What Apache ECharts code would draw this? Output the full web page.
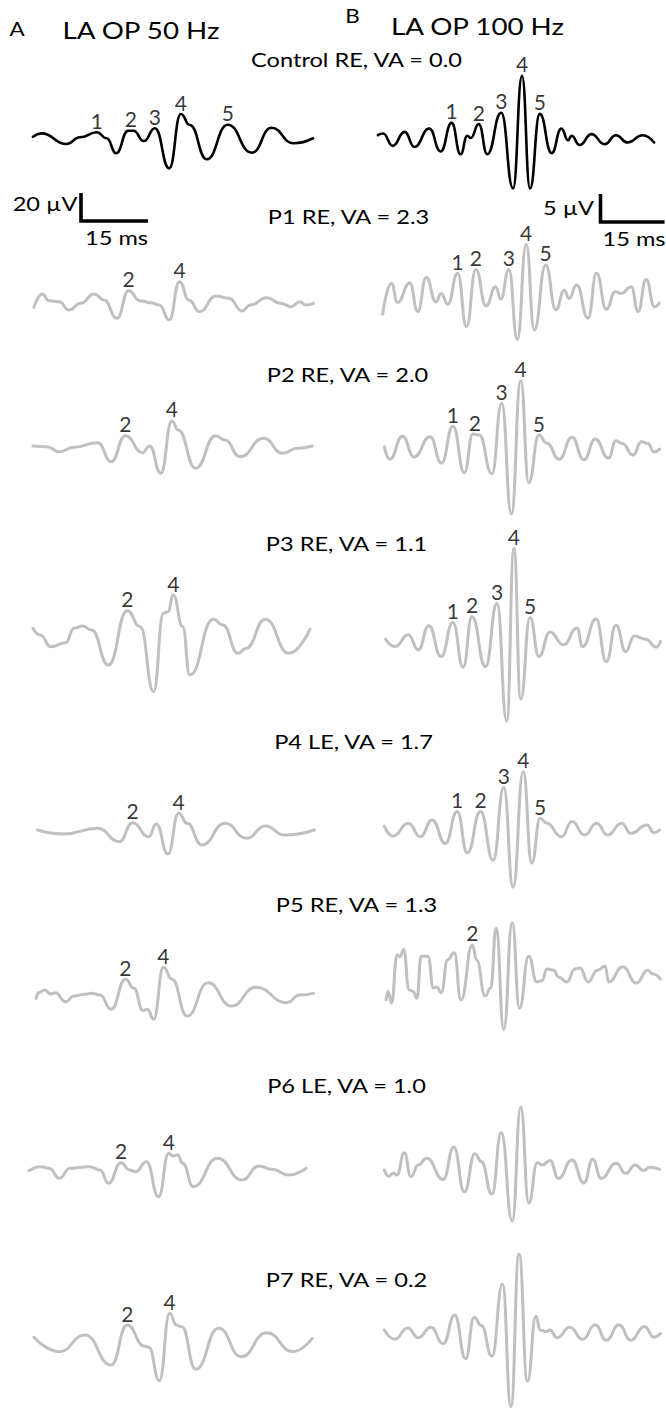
<!DOCTYPE html>
<html><head><meta charset="utf-8">
<script src="https://cdn.jsdelivr.net/npm/echarts@6/dist/echarts.min.js"></script>
<style>html,body{margin:0;padding:0;background:#fff}#c{width:666px;height:1426px}</style>
</head><body><div id="c"></div>
<script>
// ---- Text ----
const panelLetters = ['A', 'B'];
const panelTitles = ['LA OP 50 Hz', 'LA OP 100 Hz'];
const rowTitles = ['Control RE, VA = 0.0', 'P1 RE, VA = 2.3', 'P2 RE, VA = 2.0', 'P3 RE, VA = 1.1',
  'P4 LE, VA = 1.7', 'P5 RE, VA = 1.3', 'P6 LE, VA = 1.0', 'P7 RE, VA = 0.2'];
const scaleMs = 15, scaleUv50 = 20, scaleUv100 = 5;

// ---- Traces: [time ms, amplitude µV] turning points ----
// LA OP 50 Hz (left column)
const ctrl50 = [[0,0.2],[1.9,2.6],[7.5,-5.0],[10.5,-0.2],[14.3,3.4],[16.5,-0.9],[18.6,-11.6],[21.3,4.5],[22.5,4.5],[24.8,-2.9],[27.3,6.2],[30.5,-22.4],[33.1,16.4],[35.1,8.6],[38.9,-15.9],[43.6,8.8],[49.0,-11.2],[53.4,6.6],[58.3,-4.5],[62.7,-0.9]];
const p1_50 = [[0.2,-3.1],[2.1,6.4],[3.6,1.6],[5.9,0.9],[8.0,-5.0],[10.7,-0.2],[13.7,6.4],[15.9,2.1],[18.8,-10.9],[21.4,8.8],[24.0,1.6],[26.4,0.2],[28.3,-1.4],[30.5,-12.1],[32.8,15.2],[34.9,2.1],[37.3,-6.2],[40.9,5.0],[43.9,3.4],[46.8,-5.7],[48.7,-1.4],[52.3,3.8],[55.4,-0.2],[57.8,-2.6],[59.7,0.9],[61.1,-1.4],[62.8,-0.2]];
const p2_50 = [[0,0.7],[3.1,0.2],[5.9,-3.4],[9.2,-0.2],[14.5,3.1],[17.5,-10.5],[20.7,8.1],[24.5,-4.1],[26.1,0.7],[28.6,-18.8],[31.1,18.6],[32.5,12.1],[36.4,-15.2],[40.9,8.1],[43.0,5.0],[46.3,-6.9],[51.7,6.2],[55.8,-4.5],[59.2,-0.9],[62.5,0.7]];
const p3_50 = [[0,2.6],[1.6,-2.1],[4.0,-10.5],[7.3,-7.6],[9.2,2.6],[11.1,4.3],[13.1,1.4],[16.9,-23.6],[21.1,15.2],[24.0,3.8],[27.0,-42.6],[29.2,13.4],[30.2,14.5],[31.4,26.4],[33.5,3.8],[35.1,-30.7],[40.4,9.1],[42.5,5.0],[45.9,-15.2],[47.7,-11.6],[52.0,9.1],[57.3,-15.2],[62.0,2.1]];
const p4_50 = [[1.0,0.7],[6.9,-2.1],[14.5,1.9],[19.3,-7.6],[22.3,5.9],[25.9,-4.1],[27.6,5.0],[30.2,-16.4],[32.6,12.6],[34.5,5.5],[37.8,-10.0],[43.0,5.5],[47.8,-5.2],[52.0,3.6],[56.3,-2.9],[63.0,0.7]];
const p5_50 = [[0.7,-0.9],[1.2,3.1],[2.6,5.0],[4.0,2.1],[5.0,3.1],[7.3,-3.4],[9.2,0.7],[11.6,1.9],[13.1,2.6],[15.0,1.4],[17.5,-8.8],[20.7,12.6],[22.6,6.2],[24.6,-9.6],[25.6,-8.8],[27.0,-15.9],[29.2,21.2],[31.1,12.6],[34.5,-13.6],[39.2,10.2],[44.4,-6.4],[49.9,6.9],[56.8,-4.1],[59.7,1.4],[62.8,2.6]];
const p6_50 = [[-0.9,-0.5],[1.7,2.4],[3.6,1.2],[5.9,-5.9],[8.3,1.2],[12.6,2.4],[15.0,0],[16.9,-9.5],[19.7,5.2],[21.6,0],[23.0,-1.2],[25.4,5.9],[28.1,-19.1],[30.4,11.9],[31.2,10.0],[32.4,10.7],[33.5,4.8],[35.9,-11.9],[41.3,8.4],[46.8,-7.1],[50.6,2.9],[53.5,0.5],[57.3,-3.6],[61.1,1.2]];
const p7_50 = [[0.2,3.4],[5.9,-6.9],[11.6,5.0],[17.5,-16.4],[21.1,12.1],[24.9,-2.9],[25.9,-3.8],[28.3,-27.6],[30.6,20.5],[32.1,12.1],[33.3,10.9],[36.4,-19.5],[41.6,9.8],[46.6,-10.5],[52.3,6.6],[58.2,-6.9],[62.5,2.6]];

// LA OP 100 Hz (right column)
const ctrl100 = [[0,0.5],[1.2,0.8],[3.5,-1.4],[6.3,1.1],[8.6,-1.6],[12.1,1.7],[14.8,-2.4],[17.4,2.7],[19.5,-2.9],[21.1,0.4],[21.9,0],[23.8,2.5],[25.8,-2.9],[29.1,4.5],[31.9,-9.0],[34.0,11.1],[35.9,-9.0],[38.2,4.3],[41.0,-2.7],[43.3,1.7],[44.9,-0.4],[45.7,0.4],[47.6,-1.25],[50.4,0.7],[53.5,-1.1],[56.2,0.5],[58.9,-0.8],[62.5,0.5],[65.2,-0.8]];
const p1_100 = [[1.1,-2.9],[3.2,2.6],[4.6,-0.8],[7.5,2.7],[9.4,-2.4],[11.4,3.7],[13.7,-0.7],[14.9,0.8],[16.5,-1.1],[18.8,4.4],[20.9,-5.1],[23.1,5.1],[25.5,-1.4],[27.8,2.0],[29.0,-0.2],[30.9,5.1],[32.9,-7.4],[35.0,9.6],[36.9,-5.7],[39.6,5.9],[42.0,-2.1],[44.0,1.4],[45.1,-0.1],[46.9,2.3],[49.6,-3.6],[51.6,4.4],[53.9,-2.0],[56.0,1.1],[57.4,0.8],[59.8,2.0],[61.4,-2.4],[63.3,3.3],[65.3,-1.6],[66.4,-0.9]];
const p2_100 = [[1.5,0.2],[2.8,-2.0],[5.8,2.1],[8.5,-1.6],[12.3,2.0],[15.0,-2.7],[17.7,3.9],[20.4,-4.4],[22.4,2.5],[23.9,2.3],[26.9,-4.6],[29.2,8.0],[31.5,-11.8],[33.7,12.0],[35.6,-6.2],[38.0,2.3],[39.8,0.9],[42.8,-2.0],[45.8,1.9],[48.6,-2.1],[51.3,1.6],[54.4,-1.8],[56.2,1.3],[57.7,0.8],[60.2,-1.25],[62.2,1.1],[63.7,0.8],[65.2,-0.7],[66.5,-0.2]];
const p3_100 = [[1.8,-0.4],[4.0,-1.7],[7.2,0.4],[9.5,-2.3],[12.0,2.0],[14.9,-3.5],[17.7,2.6],[20.1,-5.4],[22.2,3.6],[25.4,-5.3],[28.1,6.0],[30.4,-15.0],[32.1,15.8],[33.7,-11.1],[35.9,3.5],[38.0,-3.5],[40.6,0.9],[43.8,-1.4],[47.0,1.6],[48.3,-1.7],[51.5,3.2],[53.9,-4.4],[56.2,2.1],[58.5,-2.6],[60.5,0.2],[63.2,-0.4],[65.7,-1.8],[66.7,-0.8]];
const p4_100 = [[1.5,0.7],[3.5,-1.1],[7.2,1.2],[10.0,-1.2],[12.8,1.8],[15.9,-2.4],[18.7,3.3],[21.1,-4.1],[24.2,3.3],[27.2,-5.4],[29.7,7.6],[31.9,-10.2],[34.3,10.4],[36.3,-5.9],[38.3,2.1],[39.8,1.25],[43.3,-1.2],[45.8,1.5],[48.8,-0.9],[51.6,1.2],[54.2,-0.9],[57.5,1.2],[59.7,-0.6],[63.5,0.9],[65.2,-0.5],[66.5,0]];
const p5_100 = [[1.9,-3.9],[2.4,-2.4],[3.2,-4.5],[4.5,4.1],[5.2,3.8],[6.1,5.1],[7.3,-2.1],[8.3,-2.4],[9.2,-3.6],[10.2,3.9],[11.8,3.9],[13.1,-1.8],[13.9,-1.6],[14.9,-2.6],[16.5,3.3],[18.0,4.5],[19.6,-3.9],[22.3,5.9],[23.3,3.2],[25.3,-3.2],[26.6,-1.8],[27.9,8.9],[29.7,-9.2],[31.7,9.9],[33.4,-5.4],[35.6,3.9],[37.5,-0.7],[38.7,-0.5],[39.9,1.6],[41.5,1.4],[42.6,0.2],[44.6,-0.7],[46.5,1.6],[47.7,1.8],[49.6,-0.7],[51.8,1.4],[53.6,2.1],[54.5,-0.7],[57.8,2.0],[61.0,-0.9],[63.7,1.4],[64.9,0.7],[66.7,-0.2]];
const p6_100 = [[1.5,0],[2.5,-1.1],[3.6,-0.6],[4.5,-0.9],[6.2,3.1],[7.8,-1.2],[9.5,0.9],[11.5,2.1],[15.4,-1.7],[17.9,4.1],[20.4,-3.9],[22.9,2.9],[24.4,1.5],[26.9,-4.3],[29.1,6.7],[31.7,-9.1],[33.7,11.2],[35.6,-5.9],[37.6,1.3],[38.8,0.9],[40.6,1.7],[42.6,-1.5],[45.8,1.8],[48.6,-2.3],[50.7,1.9],[52.7,-1.5],[56.2,1.2],[58.5,-0.6],[60.7,0.9],[62.7,-0.1],[64.2,0.5],[66.5,0.1]];
const p7_100 = [[1.5,0.7],[4.0,-1.1],[7.0,1.1],[9.5,-0.8],[12.5,1.25],[15.4,-2.0],[18.1,3.6],[20.7,-4.9],[22.7,3.2],[24.4,1.6],[26.9,-4.4],[29.4,9.6],[31.4,-14.2],[33.3,15.5],[35.3,-9.3],[37.3,3.4],[38.3,0.7],[39.8,0.4],[40.6,0.7],[42.3,-0.8],[45.3,1.25],[48.3,-1.1],[51.3,1.7],[53.9,-1.3],[56.9,1.7],[59.7,-1.3],[62.9,1.4],[65.2,-0.7],[66.7,0]];

// Peak labels: [label, time ms]
const labels50 = [
  [['1',14.3],['2',21.9],['3',27.3],['4',33.1],['5',43.6]],
  [['2',21.4],['4',32.8]],
  [['2',20.7],['4',31.1]],
  [['2',21.1],['4',31.4]],
  [['2',22.3],['4',32.6]],
  [['2',20.7],['4',29.2]],
  [['2',19.7],['4',30.4]],
  [['2',21.1],['4',30.6]]
];
const labels100 = [
  [['1',17.4],['2',23.8],['3',29.1],['4',34.0],['5',38.2]],
  [['1',18.8],['2',23.1],['3',30.9],['4',35.0],['5',39.6]],
  [['1',17.7],['2',22.9],['3',29.2],['4',33.7],['5',38.0]],
  [['1',17.7],['2',22.2],['3',28.1],['4',32.1],['5',35.9]],
  [['1',18.7],['2',24.2],['3',29.7],['4',34.3],['5',38.3]],
  [['2',22.3]],
  [],
  []
];

const traces50 = [ctrl50, p1_50, p2_50, p3_50, p4_50, p5_50, p6_50, p7_50];
const traces100 = [ctrl100, p1_100, p2_100, p3_100, p4_100, p5_100, p6_100, p7_100];

// ---- Layout ----
const FONT = 'Lato, "Open Sans", sans-serif';
const SX = 1.18;
const colL = {x0: 33, pxMs: 4.467, pxUv: 1.4, tMin: -1.5, tMax: 64, vMin: -50, vMax: 40};
const colR = {x0: 378, pxMs: 4.27, pxUv: 5.6, tMin: -1, tMax: 68, vMin: -18, vMax: 18};
const baseL = [137, 303, 447, 632, 831, 997, 1170, 1342];
const baseR = [138, 298, 448, 637, 830, 978, 1170, 1342];

const grids = [], xAxes = [], yAxes = [], series = [];
function addGrid(left, top, width, height, xmin, xmax, ymin, ymax) {
  const i = grids.length;
  grids.push({left, top, width, height, containLabel: false, show: false});
  xAxes.push({type: 'value', gridIndex: i, min: xmin, max: xmax, show: false});
  yAxes.push({type: 'value', gridIndex: i, min: ymin, max: ymax, show: false});
  return i;
}
function addTrace(col, yb, data, labels, black) {
  const i = addGrid(col.x0 + col.tMin * col.pxMs, yb - col.vMax * col.pxUv,
    (col.tMax - col.tMin) * col.pxMs, (col.vMax - col.vMin) * col.pxUv,
    col.tMin, col.tMax, col.vMin, col.vMax);
  series.push({
    type: 'line', xAxisIndex: i, yAxisIndex: i, data: data,
    symbol: 'none', showSymbol: false, smooth: 0.5, smoothMonotone: 'x',
    lineStyle: {color: black ? '#000' : '#c0c0c0', width: black ? 2.6 : 3, join: 'round', cap: 'round'},
    silent: true, animation: false, clip: false, z: 2
  });
  const pts = labels.map(([lab, t]) => {
    let best = data[0];
    data.forEach(p => { if (Math.abs(p[0] - t) < Math.abs(best[0] - t)) best = p; });
    return [t, best[1], lab];
  });
  if (pts.length) {
    series.push({
      type: 'scatter', xAxisIndex: i, yAxisIndex: i, data: pts, symbolSize: 1,
      itemStyle: {color: 'rgba(0,0,0,0)'},
      label: {show: true, position: 'top', distance: 1, formatter: p => p.value[2],
        fontSize: 21, fontWeight: 'normal', fontFamily: FONT, color: '#000'},
      silent: true, animation: false, z: 3
    });
  }
}
for (let r = 0; r < 8; r++) {
  addTrace(colL, baseL[r], traces50[r], labels50[r], r === 0);
  addTrace(colR, baseR[r], traces100[r], labels100[r], r === 0);
}
// scale bars
function addBar(left, bottom, col, uv) {
  const i = addGrid(left, bottom - uv * col.pxUv, scaleMs * col.pxMs, uv * col.pxUv, 0, scaleMs, 0, uv);
  series.push({type: 'line', xAxisIndex: i, yAxisIndex: i, data: [[0, uv], [0, 0], [scaleMs, 0]],
    symbol: 'none', lineStyle: {color: '#000', width: 3.6, join: 'miter', cap: 'butt'},
    silent: true, animation: false, clip: false});
}
addBar(81, 221, colL, scaleUv50);
addBar(600.5, 222, colR, scaleUv100);

// ---- Texts ----
function txt(text, x, y, size) {
  return {type: 'text', x, y, scaleX: SX, silent: true,
    style: {text, fontSize: size, fontWeight: 'normal', fontStyle: 'normal', fontFamily: FONT, fill: '#000',
      align: 'center', verticalAlign: 'middle', textAlign: 'center', textVerticalAlign: 'middle'}};
}
const rowX = [356.5, 348.5, 347.5, 346.5, 353.5, 356.5, 346.5, 346.5];
const rowY = [59.7, 216.5, 374, 543, 740.8, 904.5, 1085, 1279.7];
const texts = [
  txt(panelLetters[0], 17, 28, 19),
  txt(panelLetters[1], 352.5, 15, 19),
  txt(panelTitles[0], 141, 29.5, 23.5),
  txt(panelTitles[1], 477.5, 26, 23.5),
  txt(scaleUv50 + ' µV', 45, 203.5, 20),
  txt(scaleMs + ' ms', 116.5, 237.5, 20),
  txt(scaleUv100 + ' µV', 568.5, 207.5, 20),
  txt(scaleMs + ' ms', 634, 238, 20)
];
rowTitles.forEach((t, r) => texts.push(txt(t, rowX[r], rowY[r], 20)));

const chart = echarts.init(document.getElementById('c'), null, {renderer: 'svg', width: 666, height: 1426});
chart.setOption({
  animation: false,
  backgroundColor: '#fff',
  grid: grids, xAxis: xAxes, yAxis: yAxes, series: series,
  graphic: {elements: texts}
});
</script></body></html>
